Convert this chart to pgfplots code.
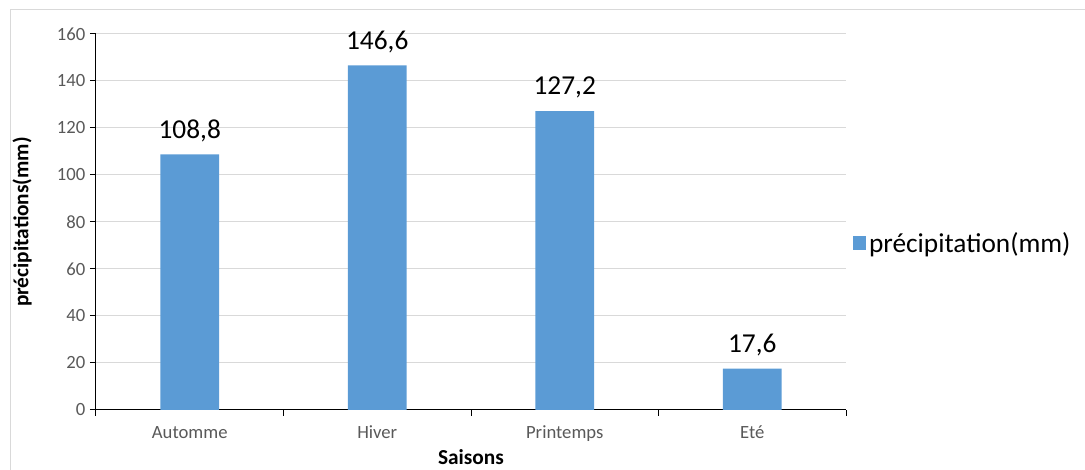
\documentclass[border=0pt]{standalone}
\usepackage{pgfplots}
\pgfplotsset{compat=1.18}
\usepackage{fontspec}
\setmainfont{Carlito}
\definecolor{barblue}{HTML}{5B9BD5}
\definecolor{gridgray}{HTML}{D9D9D9}
\definecolor{ticktext}{HTML}{595959}
\begin{document}
\begin{tikzpicture}
  % 1 px of the reference = 0.75pt
  \useasboundingbox (0pt,0pt) rectangle (813.75pt,352.5pt);
  \draw[gridgray,line width=0.75pt] (7.5pt,0pt) -- (7.5pt,345pt) -- (813.75pt,345pt);
  \begin{axis}[
    at={(72pt,45pt)}, anchor=south west,
    scale only axis,
    width=562.5pt, height=282pt,
    ybar, bar width=44pt,
    xmin=-0.5, xmax=3.5,
    ymin=0, ymax=160,
    ytick={0,20,...,160},
    xtick={-0.5,0.5,1.5,2.5,3.5},
    xticklabels={},
    extra x ticks={0,1,2,3},
    extra x tick labels={Automme, Hiver, Printemps, Eté},
    extra x tick style={tick style={draw=none}, grid=none},
    ymajorgrids, grid style={gridgray, line width=0.75pt},
    axis x line*=bottom, axis y line*=left,
    axis line style={black, line width=0.75pt, -},
    tick style={black, line width=0.75pt},
    tick align=outside, major tick length=4.5pt,
    /pgf/number format/assume math mode=true,
    ticklabel style={font=\fontsize{14}{16}\selectfont, text=ticktext},
    xticklabel style={yshift=-4pt},
    xlabel={\textbf{Saisons}},
    ylabel={\textbf{précipitations(mm)}},
    label style={font=\fontsize{16}{18}\selectfont},
    xlabel style={yshift=6pt},
    ylabel style={yshift=12pt},
    nodes near coords,
    every node near coord/.append style={font=\fontsize{20.5}{24}\selectfont, black, yshift=6pt},
    nodes near coords={\pgfmathprintnumber[fixed, precision=1, fixed zerofill, use comma]{\pgfplotspointmeta}},
    legend style={at={(1.009,0.444)}, anchor=west, draw=none, fill=none,
      font=\fontsize{20.5}{24}\selectfont, inner xsep=0pt},
    legend image code/.code={\fill[barblue] (0pt,-5pt) rectangle (10pt,5pt);},
  ]
    \addplot[draw=none, fill=barblue] coordinates {(0,108.8) (1,146.6) (2,127.2) (3,17.6)};
    \legend{précipitation(mm)}
  \end{axis}
\end{tikzpicture}
\end{document}
